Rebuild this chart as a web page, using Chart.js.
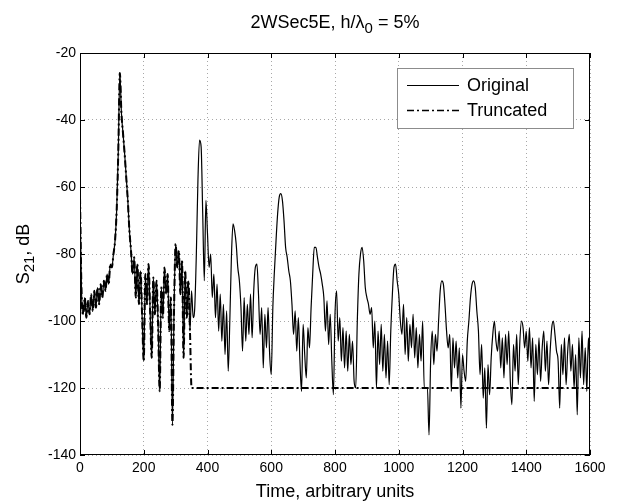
<!DOCTYPE html>
<html lang="en">
<head>
    <meta charset="UTF-8"/>
    <title>2WSec5E S21 vs time</title>
    <style>
        html, body {
            margin: 0;
            padding: 0;
            background: #fff;
            overflow: hidden;
        }

        canvas {
            display: block;
        }
    </style>
    <script src="https://cdn.jsdelivr.net/npm/chart.js@4/dist/chart.umd.min.js"></script>
</head>
<body>
<canvas id="chart" width="617" height="503"></canvas>

<script>
    // Data: S21 in dB, one sample every TIME_STEP units, starting at 0
    const TIME_STEP = 5;
    const originalDb = [
        /*    0 */ -63, -92, -98, -93, -99, -94, -98, -92, -97, -91, -96, -90, -95, -89, -93, -88, -91, -86, -89, -83,
        /*  100 */ -84, -80, -76, -67, -50, -26, -38, -44, -50, -57, -64, -73, -79, -86, -81, -93, -83, -95, -85, -99,
        /*  200 */ -112, -86, -95, -83, -97, -111, -87, -98, -88, -101, -121, -90, -99, -84, -92, -86, -103, -93, -131, -97,
        /*  300 */ -77, -84, -79, -92, -82, -111, -85, -99, -88, -103, -91, -99, -96, -80, -58, -46, -48, -68, -88, -64,
        /*  400 */ -74, -84, -80, -93, -86, -99, -89, -103, -92, -106, -95, -110, -97, -115, -100, -81, -71, -73, -77, -84,
        /*  500 */ -88, -96, -109, -93, -106, -95, -104, -92, -105, -91, -84, -83, -92, -104, -96, -114, -98, -108, -96, -110,
        /*  600 */ -116, -96, -85, -76, -68, -63, -62, -64, -70, -78, -81, -85, -88, -95, -104, -97, -109, -99, -112, -121,
        /*  700 */ -101, -110, -117, -102, -108, -96, -86, -78, -78, -81, -84, -86, -89, -93, -103, -94, -107, -98, -112, -122,
        /*  800 */ -98, -91, -106, -99, -112, -102, -114, -103, -115, -104, -113, -106, -118, -120, -100, -86, -80, -78, -82, -90,
        /*  900 */ -93, -95, -98, -96, -108, -100, -120, -103, -113, -101, -115, -104, -117, -106, -119, -103, -92, -84, -83, -88,
        /* 1000 */ -92, -100, -104, -95, -110, -99, -112, -101, -108, -98, -111, -102, -114, -104, -112, -100, -120, -120, -120, -134,
        /* 1100 */ -112, -103, -113, -104, -109, -100, -91, -88, -89, -95, -103, -108, -104, -121, -105, -114, -106, -117, -108, -126,
        /* 1200 */ -110, -115, -118, -106, -100, -93, -89, -88, -90, -97, -103, -116, -107, -123, -114, -132, -113, -122, -111, -104,
        /* 1300 */ -100, -106, -109, -103, -114, -105, -117, -104, -113, -103, -118, -125, -107, -115, -104, -119, -106, -100, -102, -108,
        /* 1400 */ -103, -112, -102, -114, -105, -124, -107, -116, -105, -118, -108, -103, -115, -106, -119, -109, -102, -100, -104, -109,
        /* 1500 */ -112, -126, -107, -116, -105, -119, -109, -104, -115, -107, -120, -110, -128, -105, -117, -103, -119, -108, -121, -105,
        /* 1600 */ -114
    ];

    // Truncated response: same as original before the cut, floor level after it
    const TRUNCATE_AT = 350;
    const FLOOR_DB = -120;

    const X_TICKS = [0, 200, 400, 600, 800, 1000, 1200, 1400, 1600];
    const Y_TICKS = [-140, -120, -100, -80, -60, -40, -20];

    const FONT = "'Liberation Sans', Arial, Helvetica, sans-serif";

    const originalPts = originalDb.map((db, i) => ({x: i * TIME_STEP, y: db}));
    const truncatedPts = originalPts.map(p => ({x: p.x, y: p.x < TRUNCATE_AT ? p.y : FLOOR_DB}));

    // Text with subscripts, drawn run by run
    function drawRuns(ctx, runs, cx, cy) {
        let total = 0;
        runs.forEach(r => {
            ctx.font = `${r.size}px ${FONT}`;
            r.w = ctx.measureText(r.text).width;
            total += r.w;
        });
        let x = cx - total / 2;
        ctx.textAlign = 'left';
        ctx.textBaseline = 'alphabetic';
        runs.forEach(r => {
            ctx.font = `${r.size}px ${FONT}`;
            ctx.fillText(r.text, x, cy + (r.dy || 0));
            x += r.w;
        });
    }

    const decor = {
        id: 'decor',
        afterDatasetsDraw(chart) {
            const {ctx, chartArea: a, scales: {x, y}} = chart;
            ctx.save();

            // axes box
            ctx.strokeStyle = '#000';
            ctx.lineWidth = 1;
            ctx.strokeRect(a.left + 0.5, a.top + 0.5, a.right - a.left - 1, a.bottom - a.top - 1);

            // inward tick marks on all four sides
            const len = 5;
            ctx.beginPath();
            x.ticks.forEach(t => {
                const px = Math.round(x.getPixelForValue(t.value)) + 0.5;
                ctx.moveTo(px, a.bottom);
                ctx.lineTo(px, a.bottom - len);
                ctx.moveTo(px, a.top);
                ctx.lineTo(px, a.top + len);
            });
            y.ticks.forEach(t => {
                const py = Math.round(y.getPixelForValue(t.value)) + 0.5;
                ctx.moveTo(a.left, py);
                ctx.lineTo(a.left + len, py);
                ctx.moveTo(a.right, py);
                ctx.lineTo(a.right - len, py);
            });
            ctx.stroke();

            // legend
            const bw = 176, bh = 60;
            const bx = a.right - 17 - bw, by = a.top + 15;
            ctx.fillStyle = '#fff';
            ctx.fillRect(bx, by, bw, bh);
            ctx.strokeStyle = '#8c8c8c';
            ctx.strokeRect(bx + 0.5, by + 0.5, bw, bh);
            chart.data.datasets.forEach((ds, i) => {
                const ly = by + 17 + i * 25;
                ctx.strokeStyle = ds.borderColor;
                ctx.lineWidth = Math.min(ds.borderWidth, 1.5);
                ctx.setLineDash(ds.borderDash || []);
                ctx.beginPath();
                ctx.moveTo(bx + 10, ly + 0.5);
                ctx.lineTo(bx + 62, ly + 0.5);
                ctx.stroke();
                ctx.setLineDash([]);
                ctx.fillStyle = '#000';
                ctx.font = `18px ${FONT}`;
                ctx.textAlign = 'left';
                ctx.textBaseline = 'middle';
                ctx.fillText(ds.label, bx + 70, ly + 1);
            });
            ctx.restore();
        },
        afterDraw(chart) {
            const {ctx, chartArea: a} = chart;
            ctx.save();
            ctx.fillStyle = '#000';

            // title with subscript
            drawRuns(ctx, [
                {text: '2WSec5E, h/\u03bb', size: 18},
                {text: '0', size: 15, dy: 5},
                {text: ' = 5%', size: 18}
            ], (a.left + a.right) / 2, 28);

            // y label, rotated, with subscript
            ctx.translate(29, (a.top + a.bottom) / 2);
            ctx.rotate(-Math.PI / 2);
            drawRuns(ctx, [
                {text: 'S', size: 18},
                {text: '21', size: 15, dy: 5},
                {text: ', dB', size: 18}
            ], 0, 0);
            ctx.restore();
        }
    };

    const ctx = document.getElementById('chart').getContext('2d');
    new Chart(ctx, {
        type: 'line',
        data: {
            datasets: [{
                label: 'Original',
                data: originalPts,
                borderColor: '#000',
                borderWidth: 1.2,
                pointRadius: 0,
                cubicInterpolationMode: 'monotone',
                order: 1
            }, {
                label: 'Truncated',
                data: truncatedPts,
                borderColor: '#000',
                borderWidth: 2,
                borderDash: [7, 3, 2, 3],
                pointRadius: 0,
                cubicInterpolationMode: 'monotone',
                order: 0
            }]
        },
        options: {
            responsive: false,
            animation: false,
            layout: {padding: {top: 53, right: 27, left: 0, bottom: 0}},
            plugins: {
                legend: {display: false},
                tooltip: {enabled: false}
            },
            scales: {
                x: {
                    type: 'linear',
                    min: 0,
                    max: 1600,
                    afterFit: s => { s.height = 48; },
                    afterBuildTicks: s => { s.ticks = X_TICKS.map(v => ({value: v})); },
                    ticks: {
                        padding: 5,
                        maxRotation: 0,
                        autoSkip: false,
                        color: '#000',
                        font: {size: 14, family: FONT},
                        callback: v => String(v)
                    },
                    grid: {color: '#a8a8a8', drawTicks: false},
                    border: {display: false, dash: [1, 3]},
                    title: {
                        display: true,
                        text: 'Time, arbitrary units',
                        color: '#000',
                        font: {size: 18, family: FONT},
                        padding: {top: 0, bottom: 0}
                    }
                },
                y: {
                    min: -140,
                    max: -20,
                    afterFit: s => { s.width = 80; },
                    afterBuildTicks: s => { s.ticks = Y_TICKS.map(v => ({value: v})); },
                    ticks: {
                        padding: 4,
                        color: '#000',
                        font: {size: 14, family: FONT},
                        callback: v => String(v)
                    },
                    grid: {color: '#a8a8a8', drawTicks: false},
                    border: {display: false, dash: [1, 3]}
                }
            }
        },
        plugins: [decor]
    });
</script>
</body>
</html>
